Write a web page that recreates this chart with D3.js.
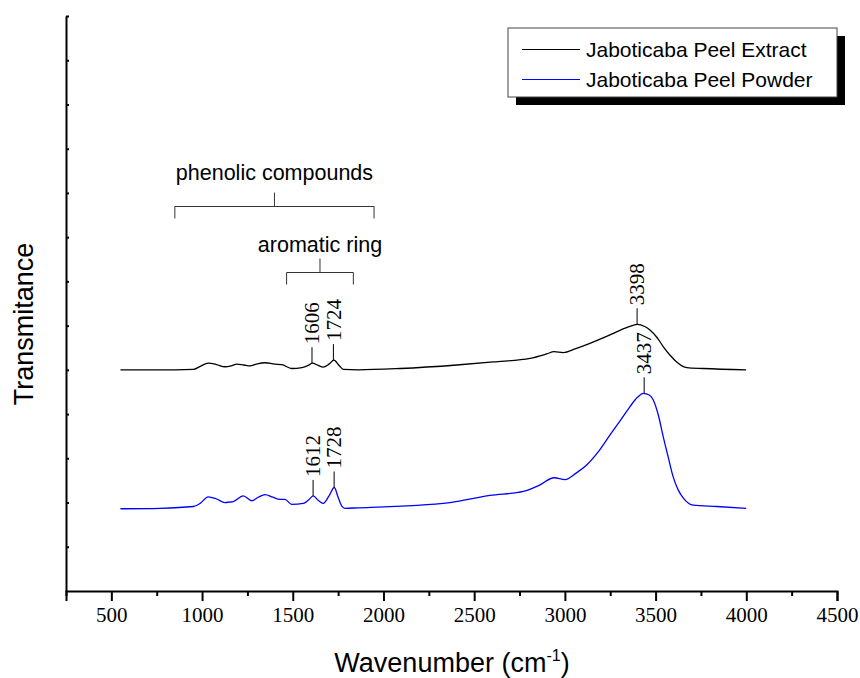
<!DOCTYPE html>
<html>
<head>
<meta charset="utf-8">
<script src="https://cdn.jsdelivr.net/npm/d3@7"></script>
<style>
  body { margin: 0; background: #fff; }
  svg { display: block; }
</style>
</head>
<body>
<div id="container"></div>
<script>
// FTIR spectra, values
var wnExtract = [550, 700, 850, 952, 990, 1034, 1080, 1126, 1160, 1191, 1230, 1264, 1300, 1347, 1400, 1439, 1494, 1550, 1585, 1608, 1640, 1668, 1700, 1727, 1755, 1779, 1860, 2091, 2404, 2605, 2808, 2900, 2940, 2991, 3060, 3138, 3220, 3285, 3350, 3399, 3440, 3469, 3510, 3543, 3580, 3616, 3672, 3763, 3999]
var trExtract = [5.00, 5.00, 5.00, 5.01, 5.08, 5.15, 5.12, 5.07, 5.09, 5.13, 5.11, 5.09, 5.13, 5.16, 5.13, 5.12, 5.03, 5.05, 5.10, 5.15, 5.10, 5.06, 5.13, 5.22, 5.10, 5.01, 5.00, 5.03, 5.11, 5.18, 5.26, 5.36, 5.41, 5.39, 5.48, 5.60, 5.74, 5.86, 5.97, 6.03, 5.98, 5.90, 5.72, 5.52, 5.33, 5.18, 5.05, 5.03, 5.00]

var wnPowder = [550, 768, 952, 989, 1034, 1080, 1126, 1150, 1172, 1227, 1274, 1310, 1347, 1390, 1430, 1457, 1494, 1558, 1585, 1613, 1640, 1668, 1700, 1729, 1750, 1770, 1788, 1860, 2367, 2587, 2771, 2820, 2863, 2940, 3001, 3060, 3120, 3190, 3249, 3310, 3359, 3400, 3432, 3465, 3487, 3515, 3542, 3570, 3597, 3625, 3653, 3708, 3837, 3999]
var trPowder = [1.86, 1.87, 1.91, 1.98, 2.13, 2.08, 2.00, 2.01, 2.02, 2.15, 2.04, 2.12, 2.18, 2.12, 2.07, 2.07, 1.96, 1.98, 2.05, 2.15, 2.05, 1.98, 2.15, 2.34, 2.12, 1.92, 1.87, 1.88, 2.00, 2.16, 2.25, 2.32, 2.40, 2.56, 2.52, 2.66, 2.85, 3.18, 3.53, 3.88, 4.17, 4.38, 4.47, 4.43, 4.32, 3.98, 3.49, 3.02, 2.58, 2.28, 2.10, 1.94, 1.91, 1.87]

var extractPeaks = [1606, 1724, 3398]
var extractPeakTr = [5.15, 5.22, 6.03]
var powderPeaks = [1612, 1728, 3437]
var powderPeakTr = [2.15, 2.34, 4.47]

var groupLabels = ['phenolic compounds', 'aromatic ring']
var groupFrom = [850, 1466]
var groupTo = [1948, 1834]

var seriesNames = ['Jaboticaba Peel Extract', 'Jaboticaba Peel Powder']
var seriesColors = ['#000000', '#0000ff']

var xMajor = [500, 1000, 1500, 2000, 2500, 3000, 3500, 4000, 4500]
var xMinor = [250, 750, 1250, 1750, 2250, 2750, 3250, 3750, 4250]
var yTicks = [1, 2, 3, 4, 5, 6, 7, 8, 9, 10, 11, 12, 13]

var WIDTH = 860
var HEIGHT = 678

var svg = d3.select('div#container').append('svg')
  .attr('width', WIDTH)
  .attr('height', HEIGHT)

var x = d3.scaleLinear().domain([250, 4500]).range([66, 837])
var y = d3.scaleLinear().domain([0, 13]).range([591, 16])

var serif = '"Liberation Serif", "Times New Roman", serif'
var sans = '"Liberation Sans", Arial, sans-serif'

// x axis, major + minor ticks
var xAxis = svg.append('g')
  .attr('transform', 'translate(0,591)')
  .call(d3.axisBottom(x).tickValues(xMajor).tickSize(10).tickPadding(6).tickFormat(d3.format('d')))
xAxis.select('.domain').attr('stroke-width', 2)
xAxis.selectAll('.tick line').attr('stroke-width', 2)
xAxis.selectAll('.tick text')
  .attr('font-family', serif)
  .attr('font-size', 21)
  .attr('fill', '#000')

var xMinorAxis = svg.append('g')
  .attr('transform', 'translate(0,591)')
  .call(d3.axisBottom(x).tickValues(xMinor).tickSize(5).tickFormat(''))
xMinorAxis.select('.domain').remove()
xMinorAxis.selectAll('.tick line').attr('stroke-width', 2)

// y axis, small inward ticks, no labels
var yAxis = svg.append('g')
  .attr('transform', 'translate(66,0)')
  .call(d3.axisLeft(y).tickValues(yTicks).tickSizeInner(-3).tickSizeOuter(0).tickFormat(''))
yAxis.select('.domain').attr('stroke-width', 2)
yAxis.selectAll('.tick line').attr('stroke-width', 2)

// curves
var line = d3.line().curve(d3.curveMonotoneX)
  .x(function (d) { return x(d[0]) })
  .y(function (d) { return y(d[1]) })

var extractData = wnExtract.map(function (w, i) { return [w, trExtract[i]] })
var powderData = wnPowder.map(function (w, i) { return [w, trPowder[i]] })

svg.append('path')
  .datum(extractData)
  .attr('d', line)
  .attr('fill', 'none')
  .attr('stroke', seriesColors[0])
  .attr('stroke-width', 1.3)

svg.append('path')
  .datum(powderData)
  .attr('d', line)
  .attr('fill', 'none')
  .attr('stroke', seriesColors[1])
  .attr('stroke-width', 1.3)

// peak labels
function peakLabels(peaks, trs) {
  for (var i = 0; i < peaks.length; i++) {
    var px = x(peaks[i])
    var py = y(trs[i])
    svg.append('line')
      .attr('x1', px).attr('x2', px)
      .attr('y1', py).attr('y2', py - 16)
      .attr('stroke', '#000')
      .attr('stroke-width', 1)
    svg.append('text')
      .attr('transform', 'translate(' + px + ',' + (py - 19) + ') rotate(-90)')
      .attr('dy', '0.34em')
      .attr('font-family', serif)
      .attr('font-size', 21)
      .text(peaks[i])
  }
}
peakLabels(extractPeaks, extractPeakTr)
peakLabels(powderPeaks, powderPeakTr)

// group brackets
var bracketY = [206.5, 272.5]
var labelGap = [13, 7]
for (var g = 0; g < groupLabels.length; g++) {
  var x0 = x(groupFrom[g])
  var x1 = x(groupTo[g])
  var xm = (x0 + x1) / 2
  var by = bracketY[g]
  svg.append('path')
    .attr('d', 'M' + x0 + ',' + (by + 12) + 'V' + by + 'H' + x1 + 'V' + (by + 12) +
      'M' + xm + ',' + by + 'V' + (by - 14))
    .attr('fill', 'none')
    .attr('stroke', '#333')
    .attr('stroke-width', 1)
  svg.append('text')
    .attr('x', xm)
    .attr('y', by - 14 - labelGap[g])
    .attr('text-anchor', 'middle')
    .attr('font-family', sans)
    .attr('font-size', 21.5)
    .text(groupLabels[g])
}

// legend with drop shadow
var legend = svg.append('g')
legend.append('rect')
  .attr('x', 516).attr('y', 36)
  .attr('width', 329).attr('height', 69)
  .attr('fill', '#000')
legend.append('rect')
  .attr('x', 508).attr('y', 28)
  .attr('width', 329).attr('height', 69)
  .attr('fill', '#fff')
  .attr('stroke', '#444')
  .attr('stroke-width', 1)
seriesNames.forEach(function (name, i) {
  legend.append('line')
    .attr('x1', 522).attr('x2', 580)
    .attr('y1', 49.5 + i * 30).attr('y2', 49.5 + i * 30)
    .attr('stroke', seriesColors[i])
    .attr('stroke-width', 1.2)
  legend.append('text')
    .attr('x', 586)
    .attr('y', 57 + i * 30)
    .attr('font-family', sans)
    .attr('font-size', 21)
    .text(name)
})

// axis titles
var xt = svg.append('text')
  .attr('x', 452)
  .attr('y', 672)
  .attr('text-anchor', 'middle')
  .attr('font-family', sans)
  .attr('font-size', 27)
xt.append('tspan').text('Wavenumber (cm')
xt.append('tspan').attr('font-size', 16).attr('dy', -11).text('-1')
xt.append('tspan').attr('dy', 11).text(')')

svg.append('text')
  .attr('transform', 'translate(33,324) rotate(-90)')
  .attr('text-anchor', 'middle')
  .attr('font-family', sans)
  .attr('font-size', 27)
  .text('Transmitance')
</script>
</body>
</html>
